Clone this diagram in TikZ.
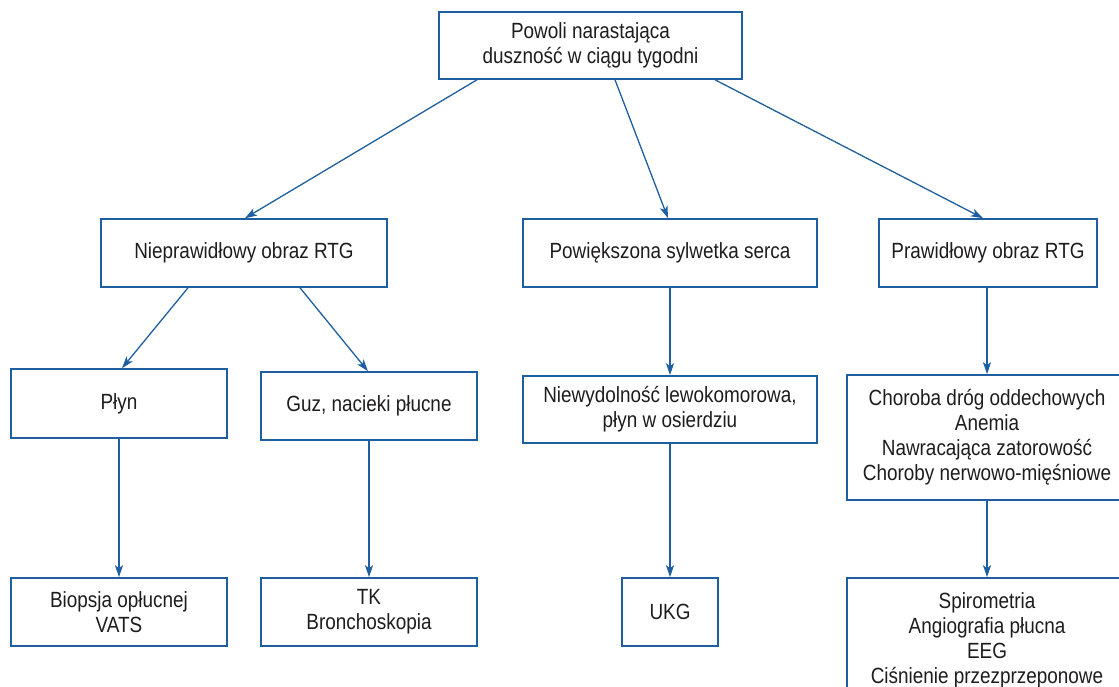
\documentclass[tikz,border=0pt]{standalone}
\usepackage{fontspec}
\setmainfont{Liberation Sans}[FakeStretch=0.86]
\usepackage{tikz}
\usetikzlibrary{arrows.meta}
\definecolor{lineblue}{RGB}{31,95,160}
\definecolor{textgray}{RGB}{30,28,28}

\begin{document}
\begin{tikzpicture}[x=1pt,y=-1pt,>={Stealth[length=12pt,width=8pt,inset=3pt]},
                    line width=1.3pt]
  \tikzstyle{box}=[rectangle,draw=lineblue,line width=1.6pt,text=textgray,
    align=center,inner sep=0pt,font=\fontsize{22}{25}\selectfont]
  \tikzstyle{link}=[->,draw=lineblue]
  \useasboundingbox (0,0) rectangle (1119,687);
  \clip (0,0) rectangle (1119,687);
  \node[box,minimum width=303pt,minimum height=67pt] (start) at (590.5,45.5)
    {Powoli narastająca\\duszność w ciągu tygodni};
  \node[box,minimum width=286pt,minimum height=68pt] (abn) at (244,253)
    {Nieprawidłowy obraz RTG};
  \node[box,minimum width=294pt,minimum height=68pt] (heart) at (670,253)
    {Powiększona sylwetka serca};
  \node[box,minimum width=218pt,minimum height=68pt] (norm) at (988,253)
    {Prawidłowy obraz RTG};
  \node[box,minimum width=216pt,minimum height=69pt] (fluid) at (119,403.5) {Płyn};
  \node[box,minimum width=216pt,minimum height=68pt] (tumor) at (369,406)
    {Guz, nacieki płucne};
  \node[box,minimum width=294pt,minimum height=67pt] (lvf) at (670,409.5)
    {Niewydolność lewokomorowa,\\płyn w osierdziu};
  \node[box,minimum width=280pt,minimum height=125pt] (other) at (987,437.5)
    {Choroba dróg oddechowych\\Anemia\\Nawracająca zatorowość\\Choroby nerwowo-mięśniowe};
  \node[box,minimum width=216pt,minimum height=68pt] (biopsy) at (119,612)
    {Biopsja opłucnej\\VATS};
  \node[box,minimum width=216pt,minimum height=68pt] (ct) at (369,612)
    {TK\\Bronchoskopia};
  \node[box,minimum width=96pt,minimum height=68pt] (echo) at (670,612) {UKG};
  \node[box,minimum width=280pt,minimum height=124pt] (tests) at (987,640)
    {Spirometria\\Angiografia płucna\\EEG\\Ciśnienie przezprzeponowe};

  \path
        ([xshift=-113.5pt]start.south) edge[link] ([xshift=1pt]abn.north)
        ([xshift=24.5pt]start.south) edge[link] ([xshift=-2pt]heart.north)
        ([xshift=124.5pt]start.south) edge[link] ([xshift=-5pt]norm.north)
        ([xshift=-56pt]abn.south) edge[link] ([xshift=3pt]fluid.north)
        ([xshift=56pt]abn.south) edge[link] ([xshift=-1pt]tumor.north)
        (fluid) edge[link] (biopsy)
        (tumor) edge[link] (ct)
        (heart) edge[link] (lvf)
        (lvf) edge[link] (echo)
        ([xshift=-1pt]norm.south) edge[link] (other.north)
        (other) edge[link] (tests);
\end{tikzpicture}
\end{document}
